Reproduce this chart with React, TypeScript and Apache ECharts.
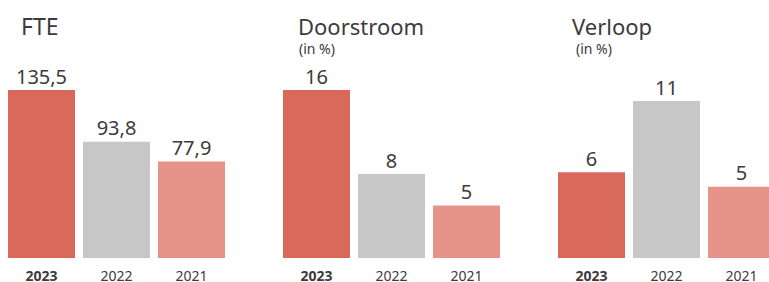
import React, { useEffect, useRef } from "react";
import * as echarts from "echarts";

const categories = ["2023", "2022", "2021"];
const fteValues = [135.5, 93.8, 77.9];
const doorstroomValues = [16, 8, 5];
const verloopValues = [6, 11, 5];
const panelTitles = ["FTE", "Doorstroom", "Verloop"];
const panelSubtitles = ["", "(in %)", "(in %)"];
const barColors = ["#D9695B", "#C6C7C6", "#E6938A"];

const TEXT = "#3b3b3b";
const FONT = "'Noto Sans', sans-serif";

export default function App() {
  const ref = useRef<HTMLDivElement>(null);
  useEffect(() => {
    if (!ref.current) return;
    const chart = echarts.init(ref.current, null, { renderer: "svg" });
    const panels = [fteValues, doorstroomValues, verloopValues];
    const lefts = [4, 279, 554];
    const tops = [90, 90, 101];
    const fmt = (v: number) => String(v).replace(".", ",");
    chart.setOption({
      animation: false,
      grid: panels.map((_, i) => ({
        left: lefts[i],
        top: tops[i],
        width: 225,
        bottom: 24,
        containLabel: false,
      })),
      xAxis: panels.map((_, i) => ({
        type: "category",
        gridIndex: i,
        data: categories.map((c, j) => ({
          value: c,
          textStyle: { fontWeight: j === 0 ? "bold" : "normal" },
        })),
        axisLine: { show: false },
        axisTick: { show: false },
        axisLabel: { color: TEXT, fontSize: 14, lineHeight: 14, fontFamily: FONT, margin: 10, interval: 0 },
      })),
      yAxis: panels.map((_, i) => ({
        type: "value",
        gridIndex: i,
        min: 0,
        max: (v: { max: number }) => v.max,
        show: false,
        splitLine: { show: false },
      })),
      series: panels.map((vals, i) => ({
        type: "bar",
        xAxisIndex: i,
        yAxisIndex: i,
        barWidth: 67,
        data: vals.map((v, j) => ({ value: v, itemStyle: { color: barColors[j] } })),
        label: {
          show: true,
          position: "top",
          distance: 4,
          color: TEXT,
          fontSize: 20,
          fontFamily: FONT,
          formatter: (p: { value: number }) => fmt(p.value),
        },
      })),
      graphic: [
        { type: "text", x: 21, y: 26, style: { text: panelTitles[0], font: `23px ${FONT}`, lineHeight: 22, fill: TEXT, verticalAlign: "middle" } },
        { type: "text", x: 298, y: 26, style: { text: panelTitles[1], font: `22px ${FONT}`, lineHeight: 22, fill: TEXT, verticalAlign: "middle" } },
        { type: "text", x: 299, y: 48.5, style: { text: panelSubtitles[1], font: `14px ${FONT}`, lineHeight: 14, fill: TEXT, verticalAlign: "middle" } },
        { type: "text", x: 572, y: 26, style: { text: panelTitles[2], font: `22px ${FONT}`, lineHeight: 22, fill: TEXT, verticalAlign: "middle" } },
        { type: "text", x: 576, y: 48.5, style: { text: panelSubtitles[2], font: `14px ${FONT}`, lineHeight: 14, fill: TEXT, verticalAlign: "middle" } },
      ],
    });
    return () => chart.dispose();
  }, []);
  return (
    <div
      style={{ position: "absolute", left: 0, top: 0, width: 769, height: 282, overflow: "hidden", background: "#fff" }}
    >
      <div ref={ref} style={{ width: 790, height: 282 }} />
    </div>
  );
}
